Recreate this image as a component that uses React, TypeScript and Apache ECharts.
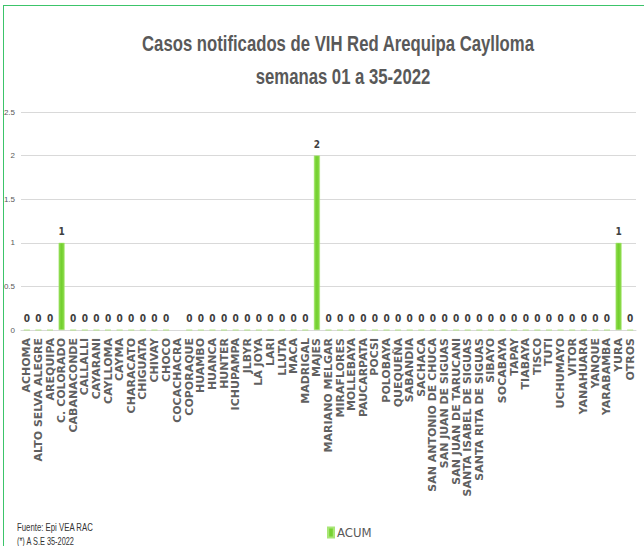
import React, { useEffect, useRef } from "react";
import * as echarts from "echarts";

const categories: string[] = [
  "ACHOMA", "ALTO SELVA ALEGRE", "AREQUIPA", "C. COLORADO", "CABANACONDE", "CALLALLI",
  "CAYARANI", "CAYLLOMA", "CAYMA", "CHARACATO", "CHIGUATA", "CHIVAY", "CHOCO",
  "COCACHACRA", "COPORAQUE", "HUAMBO", "HUANCA", "HUNTER", "ICHUPAMPA", "JLBYR",
  "LA JOYA", "LARI", "LLUTA", "MACA", "MADRIGAL", "MAJES", "MARIANO MELGAR",
  "MIRAFLORES", "MOLLEBAYA", "PAUCARPATA", "POCSI", "POLOBAYA", "QUEQUEÑA",
  "SABANDIA", "SACHACA", "SAN ANTONIO DE CHUCA", "SAN JUAN DE SIGUAS",
  "SAN JUAN DE TARUCANI", "SANTA ISABEL DE SIGUAS", "SANTA RITA DE SIGUAS",
  "SIBAYO", "SOCABAYA", "TAPAY", "TIABAYA", "TISCO", "TUTI", "UCHUMAYO", "VITOR",
  "YANAHUARA", "YANQUE", "YARABAMBA", "YURA", "OTROS",
];

const acum: (number | null)[] = [
  0, 0, 0, 1, 0, 0, 0, 0, 0, 0, 0, 0, 0,
  null, 0, 0, 0, 0, 0, 0, 0, 0, 0, 0, 0, 2, 0,
  0, 0, 0, 0, 0, 0, 0, 0, 0, 0,
  0, 0, 0, 0, 0, 0, 0, 0, 0, 0, 0,
  0, 0, 0, 1, 0,
];

const titleLines: string[] = ["Casos notificados de VIH Red Arequipa Caylloma", "semanas 01 a 35-2022"];
const footerLines: string[] = ["Fuente: Epi VEA RAC", "(*) A S.E 35-2022"];
const seriesName = "ACUM";

const NARROW = "'Liberation Sans Narrow', 'DejaVu Sans Condensed', 'Liberation Sans', Arial, sans-serif";
const SANS = "'Liberation Sans', Arial, sans-serif";

export default function App() {
  const ref = useRef<HTMLDivElement>(null);
  useEffect(() => {
    if (!ref.current) return;
    const chart = echarts.init(ref.current, undefined, { renderer: "svg" });
    chart.setOption({
      animation: false,
      backgroundColor: "#ffffff",
      legend: {
        data: [seriesName],
        left: 322,
        top: 521,
        itemWidth: 6,
        itemHeight: 10,
        itemGap: 4,
        icon: "rect",
        textStyle: { fontFamily: NARROW, fontSize: 13, color: "#595959", padding: [0, 0, 0, -2] },
      },
      graphic: [
        {
          type: "text",
          x: 338,
          y: 43,
          scaleX: 0.76,
          style: {
            text: titleLines[0],
            fontFamily: SANS,
            fontWeight: "bold",
            fontSize: 22,
            fill: "#595959",
            align: "center",
            verticalAlign: "middle",
          },
        },
        {
          type: "text",
          x: 343,
          y: 76,
          scaleX: 0.76,
          style: {
            text: titleLines[1],
            fontFamily: SANS,
            fontWeight: "bold",
            fontSize: 22,
            fill: "#595959",
            align: "center",
            verticalAlign: "middle",
          },
        },
        {
          type: "text",
          x: 17,
          y: 527,
          scaleX: 0.71,
          style: { text: footerLines[0], fontFamily: SANS, fontSize: 11, fill: "#333333", verticalAlign: "middle" },
        },
        {
          type: "text",
          x: 17,
          y: 541,
          scaleX: 0.67,
          style: { text: footerLines[1], fontFamily: SANS, fontSize: 11, fill: "#333333", verticalAlign: "middle" },
        },
      ],
      grid: { left: 21, right: 8, top: 112, bottom: 216, containLabel: false },
      xAxis: {
        type: "category",
        data: categories,
        axisLine: { lineStyle: { color: "#D9D9D9" } },
        axisTick: { show: false },
        axisLabel: {
          interval: 0,
          rotate: 90,
          margin: 8,
          fontFamily: "'DejaVu Sans', Verdana, sans-serif",
          fontWeight: "bold",
          fontSize: 11,
          color: "#606060",
        },
      },
      yAxis: {
        type: "value",
        min: 0,
        max: 2.5,
        interval: 0.5,
        axisLine: { show: false },
        axisTick: { show: false },
        splitLine: { lineStyle: { color: "#D9D9D9" } },
        axisLabel: { fontFamily: SANS, fontSize: 8, color: "#595959", margin: 6 },
      },
      series: [
        {
          name: seriesName,
          type: "bar",
          data: acum,
          barWidth: 6,
          itemStyle: {
            color: new echarts.graphic.LinearGradient(0, 0, 1, 0, [
              { offset: 0, color: "#8EDD4C" },
              { offset: 0.5, color: "#72CF2E" },
              { offset: 1, color: "#8EDD4C" },
            ]),
            borderColor: "#A8E676",
            borderWidth: 0.5,
          },
          label: {
            show: true,
            position: "top",
            distance: 6,
            fontFamily: NARROW,
            fontWeight: "bold",
            fontSize: 10,
            color: "#404040",
          },
        },
      ],
    });
    return () => chart.dispose();
  }, []);
  return (
    <div style={{ position: "fixed", left: 0, top: 0, width: 644, height: 546, background: "#fff", overflow: "hidden" }}>
      <div ref={ref} style={{ position: "absolute", left: 0, top: 0, width: 644, height: 546 }} />
      <div
        style={{
          position: "absolute",
          left: 3,
          top: 5,
          width: 680,
          height: 600,
          border: "1px solid #3CC46A",
          pointerEvents: "none",
        }}
      />
    </div>
  );
}
